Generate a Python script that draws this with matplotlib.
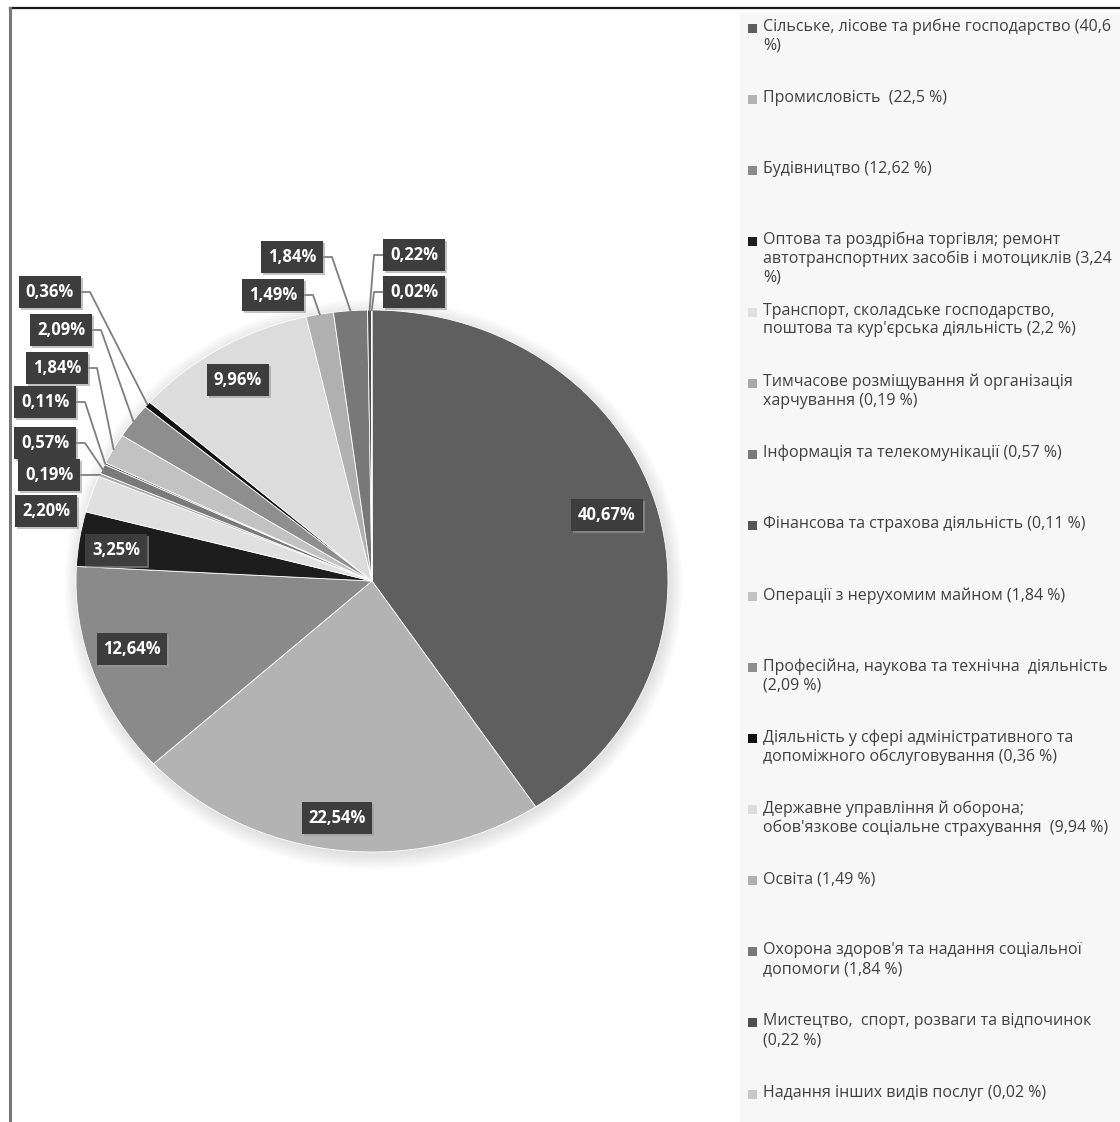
import numpy as np
import matplotlib.pyplot as plt
from matplotlib.patches import Ellipse, Rectangle
from matplotlib.lines import Line2D

# data, clockwise from 12 o'clock
values = [40.67, 22.54, 12.64, 3.25, 2.20, 0.19, 0.57, 0.11,
          1.84, 2.09, 0.36, 9.96, 1.49, 1.84, 0.22, 0.02]

colors = ['#5f5f5f', '#b3b3b3', '#8a8a8a', '#1d1d1d', '#e0e0e0', '#a9a9a9',
          '#7a7a7a', '#555555', '#c2c2c2', '#8e8e8e', '#111111', '#dcdcdc',
          '#b0b0b0', '#787878', '#4e4e4e', '#c8c8c8']

legend_labels = [
    "Сільське, лісове та рибне господарство (40,6\n%)",
    "Промисловість  (22,5 %)",
    "Будівництво (12,62 %)",
    "Оптова та роздрібна торгівля; ремонт\nавтотранспортних засобів і мотоциклів (3,24\n%)",
    "Транспорт, сколадське господарство,\nпоштова та кур'єрська діяльність (2,2 %)",
    "Тимчасове розміщування й організація\nхарчування (0,19 %)",
    "Інформація та телекомунікації (0,57 %)",
    "Фінансова та страхова діяльність (0,11 %)",
    "Операції з нерухомим майном (1,84 %)",
    "Професійна, наукова та технічна  діяльність\n(2,09 %)",
    "Діяльність у сфері адміністративного та\nдопоміжного обслуговування (0,36 %)",
    "Державне управління й оборона;\nобов'язкове соціальне страхування  (9,94 %)",
    "Освіта (1,49 %)",
    "Охорона здоров'я та надання соціальної\nдопомоги (1,84 %)",
    "Мистецтво,  спорт, розваги та відпочинок\n(0,22 %)",
    "Надання інших видів послуг (0,02 %)",
]

# label box centres in pixels (x, y from top) and leader side (None = no line)
label_pos = [(607, 515), (337, 818), (132, 649), (116, 550), (46, 511),
             (49, 475), (45, 443), (45, 402), (57, 368), (61, 330),
             (50, 292), (238, 380), (273, 295), (292, 257), (414, 255),
             (414, 292)]
leader = [None, None, None, None, None, 'L', 'L', 'L', 'L', 'L', 'L',
          None, 'L', 'L', 'R', 'R']

W, H = 1120, 1122
fig = plt.figure(figsize=(W / 100, H / 100), dpi=100)
fig.patch.set_facecolor('white')

# pie sits in its own axes, slightly squashed like the original
cx, cy, rx, ry = 372, 581, 296, 271
ax = fig.add_axes([(cx - rx) / W, (H - cy - ry) / H, 2 * rx / W, 2 * ry / H])

# soft shadow under the pie
for k in range(10):
    ax.add_patch(Ellipse((0.006, -0.012), 2 + 0.010 * k, 2 + 0.012 * k,
                         facecolor='black', edgecolor='none', alpha=0.012,
                         zorder=0, clip_on=False))

wedges, _ = ax.pie(values, colors=colors, startangle=90, counterclock=False,
                   radius=1, wedgeprops=dict(edgecolor='white', linewidth=0.6))
ax.set_xlim(-1, 1)
ax.set_ylim(-1, 1)
ax.set_aspect('auto')
ax.axis('off')

# overlay in pixel coordinates for labels, legend, frame
ov = fig.add_axes([0, 0, 1, 1], zorder=5)
ov.set_xlim(0, W)
ov.set_ylim(H, 0)
ov.axis('off')
ov.patch.set_alpha(0)

# frame lines
ov.add_line(Line2D([10, W], [8, 8], color='#1a1a1a', lw=1.6))
ov.add_line(Line2D([10, 10], [8, H], color='#777777', lw=2.2))

# anchor points on the rim, in overlay pixels
cum = np.cumsum([0] + values[:-1])
anchors = []
for c, v in zip(cum, values):
    ang = np.deg2rad(90 - (c + v / 2) / sum(values) * 360)
    disp = ax.transData.transform((np.cos(ang), np.sin(ang)))
    anchors.append(ov.transData.inverted().transform(disp))

half_w = 31
for i, v in enumerate(values):
    txt = f"{v:.2f}".replace('.', ',') + '%'
    x, y = label_pos[i]
    if leader[i] == 'L':
        x0 = x + half_w
        ov.plot([x0, x0 + 9, anchors[i][0]], [y, y, anchors[i][1]],
                color='#7f7f7f', lw=1.3, zorder=2)
    elif leader[i] == 'R':
        x0 = x - half_w
        ov.plot([x0, x0 - 9, anchors[i][0]], [y, y, anchors[i][1]],
                color='#7f7f7f', lw=1.3, zorder=2)
    # shadow box
    ov.text(x + 2, y + 2, txt, fontsize=12, fontweight='bold', family='Open Sans',
            color='none', ha='center', va='center', zorder=3,
            bbox=dict(boxstyle='square,pad=0.4', facecolor='#9a9a9a',
                      edgecolor='none', alpha=0.6))
    ov.text(x, y, txt, fontsize=12, fontweight='bold', family='Open Sans',
            color='white', ha='center', va='center', zorder=4,
            bbox=dict(boxstyle='square,pad=0.4', facecolor='#3d3d3d',
                      edgecolor='none'))

# legend panel
ov.add_patch(Rectangle((740, 13), W - 740, H - 13, facecolor='#f7f7f7',
                       edgecolor='none', zorder=1))
step = 71.07
for i, lab in enumerate(legend_labels):
    y = 28 + i * step
    ov.add_patch(Rectangle((748, y - 4.5), 9, 9, facecolor=colors[i],
                           edgecolor='none', zorder=3))
    ov.text(763, y - 9.5, lab, fontsize=11.5, family='Open Sans', color='#404040',
            ha='left', va='top', linespacing=1.22, zorder=3)

plt.savefig('out.png', dpi=100)
